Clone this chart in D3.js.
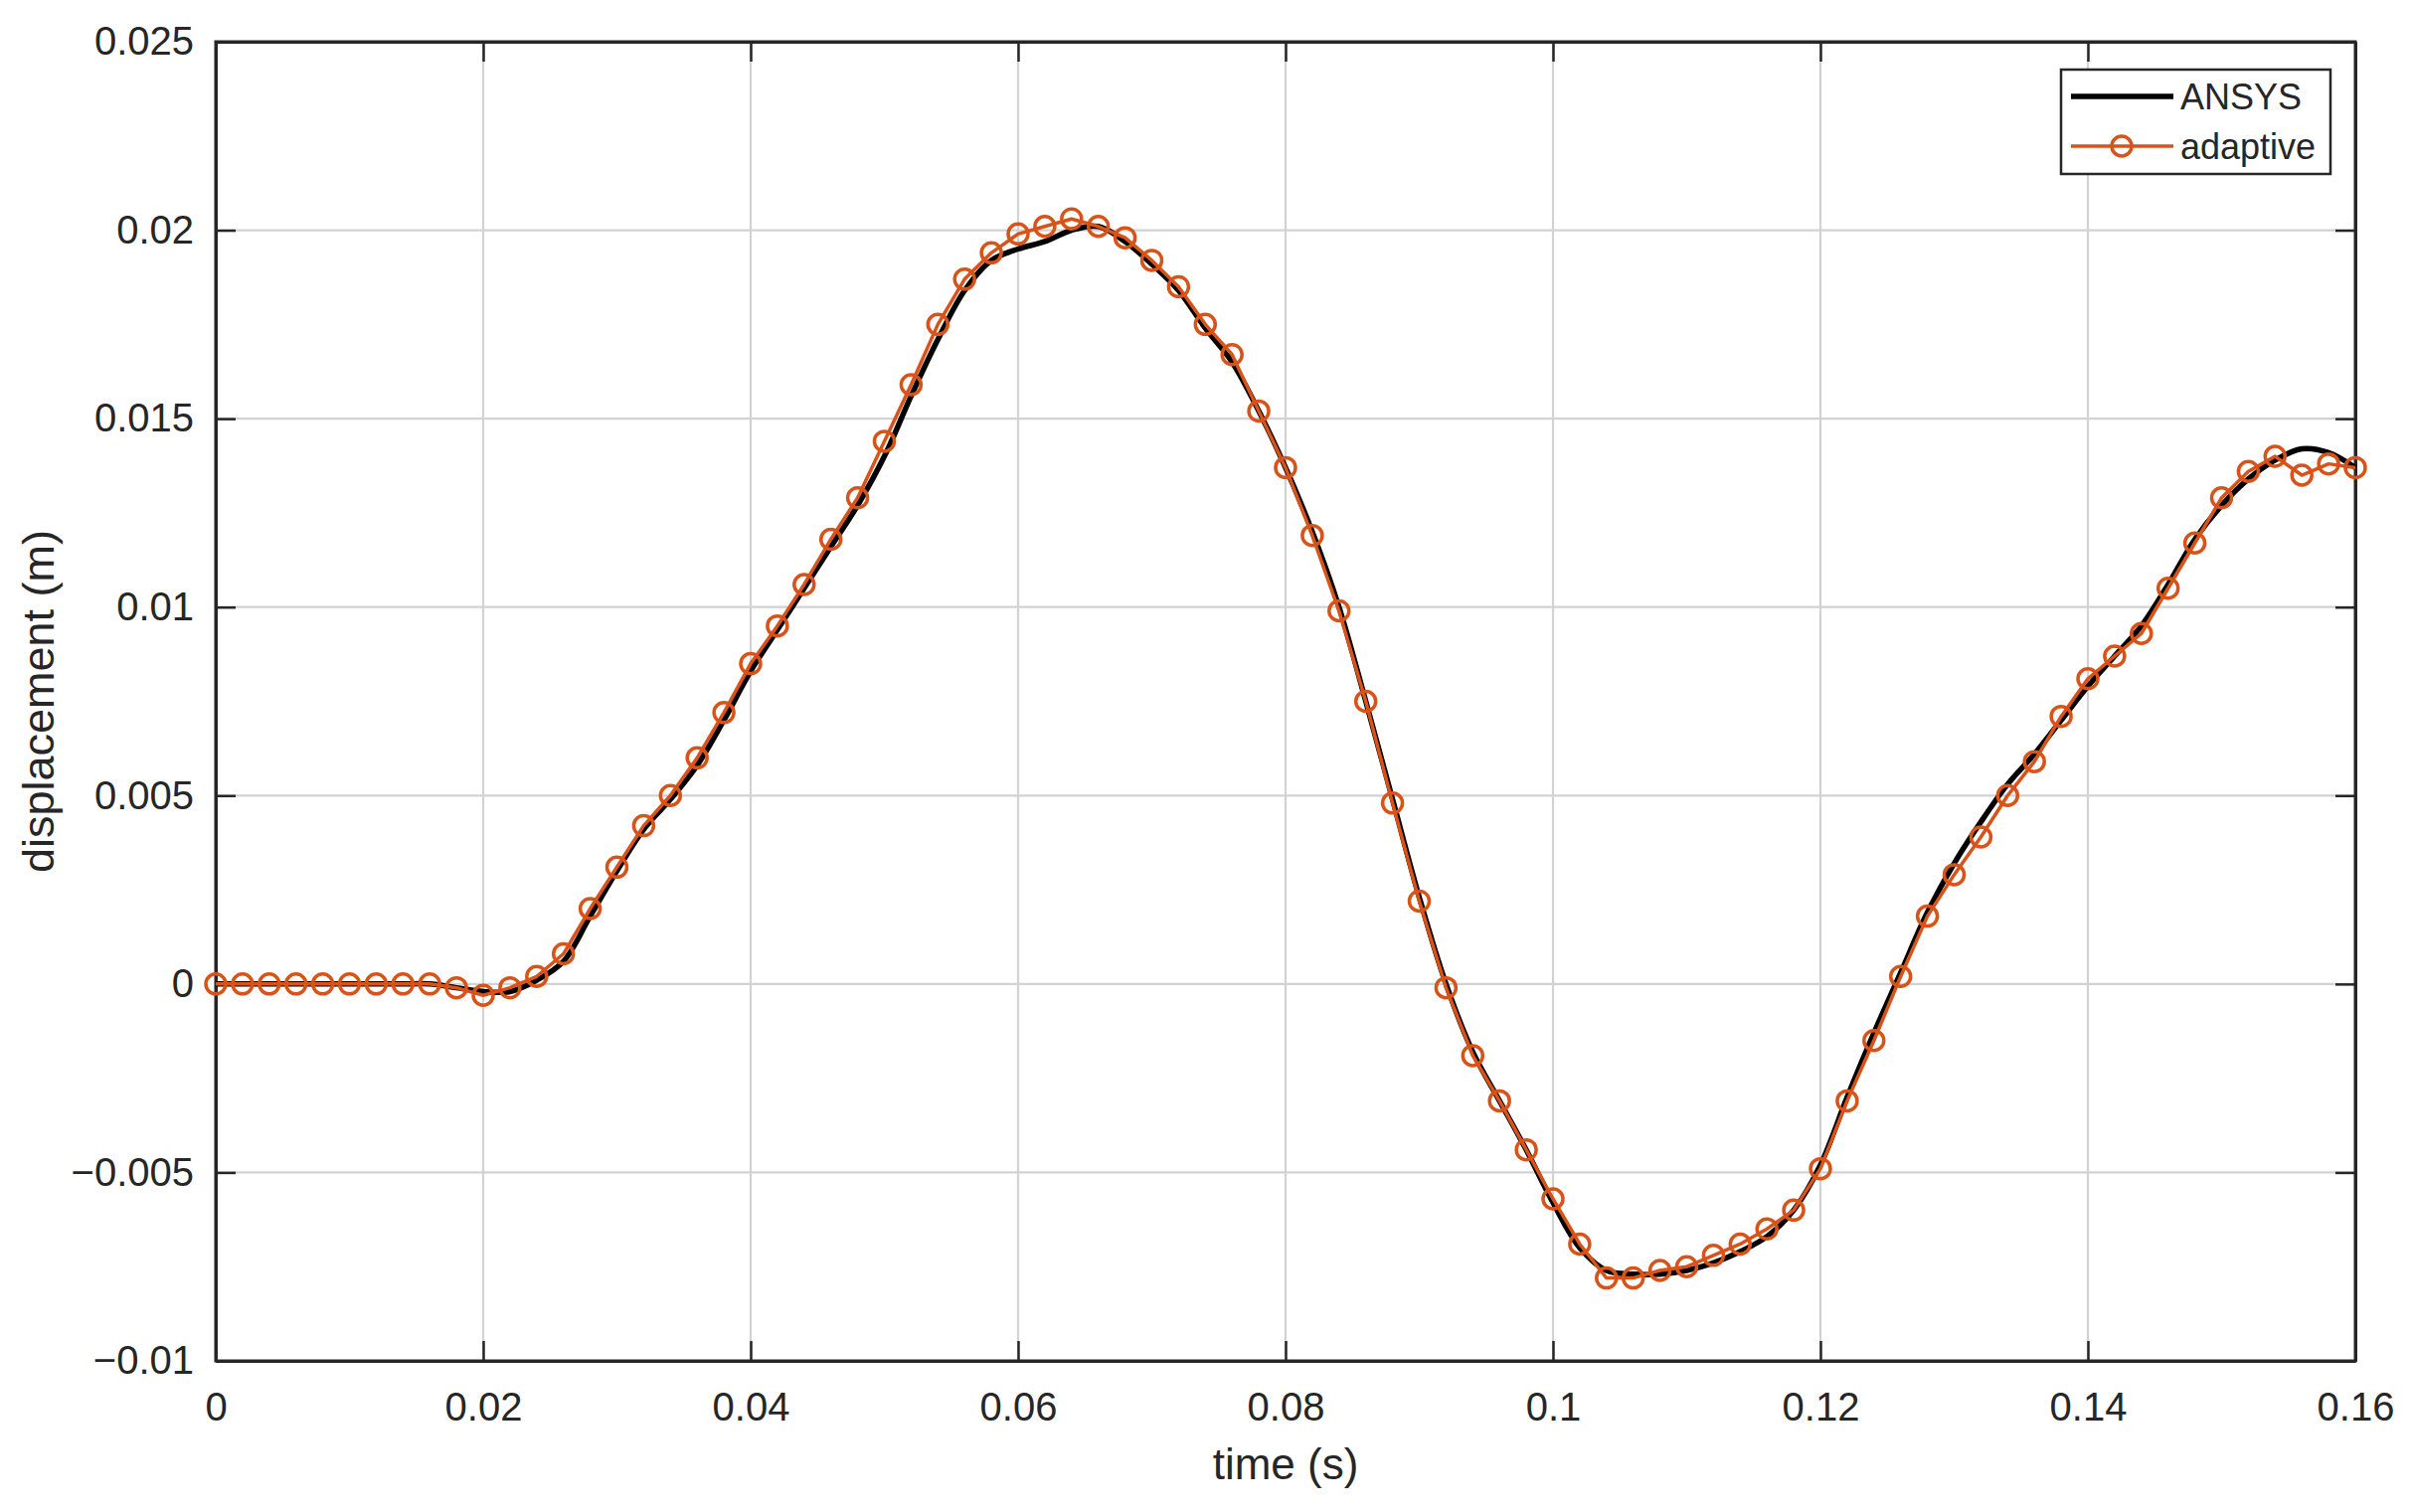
<!DOCTYPE html>
<html>
<head>
<meta charset="utf-8">
<script src="https://cdn.jsdelivr.net/npm/d3@7"></script>
<style>
  html, body { margin: 0; padding: 0; background: #fff; }
  svg { display: block; font-family: "Liberation Sans", Arial, Helvetica, sans-serif; }
</style>
</head>
<body>
<svg id="chart" width="2426" height="1521"></svg>
<script>
// ---- Data ----
const adaptiveTime = d3.range(0, 81).map(i => +(i * 0.002).toFixed(3));
const adaptiveValues = [
  0, 0, 0, 0, 0, 0, 0, 0, 0, -0.0001,
  -0.0003, -0.0001, 0.0002, 0.0008, 0.0020, 0.0031, 0.0042, 0.0050, 0.0060, 0.0072,
  0.0085, 0.0095, 0.0106, 0.0118, 0.0129, 0.0144, 0.0159, 0.0175, 0.0187, 0.0194,
  0.0199, 0.0201, 0.0203, 0.0201, 0.0198, 0.0192, 0.0185, 0.0175, 0.0167, 0.0152,
  0.0137, 0.0119, 0.0099, 0.0075, 0.0048, 0.0022, -0.0001, -0.0019, -0.0031, -0.0044,
  -0.0057, -0.0069, -0.0078, -0.0078, -0.0076, -0.0075, -0.0072, -0.0069, -0.0065, -0.0060,
  -0.0049, -0.0031, -0.0015, 0.0002, 0.0018, 0.0029, 0.0039, 0.0050, 0.0059, 0.0071,
  0.0081, 0.0087, 0.0093, 0.0105, 0.0117, 0.0129, 0.0136, 0.0140, 0.0135, 0.0138,
  0.0137
];
const ansysTime = d3.range(0, 81).map(i => +(i * 0.002).toFixed(3));
const ansysValues = [
  0, 0, 0, 0, 0, 0, 0, 0, 0, -0.0001,
  -0.0002, -0.0002, 0.0001, 0.0006, 0.0018, 0.0030, 0.0041, 0.0049, 0.0058, 0.0070,
  0.0083, 0.0094, 0.0105, 0.0116, 0.0127, 0.0140, 0.0156, 0.0171, 0.0184, 0.0192,
  0.0195, 0.0197, 0.0200, 0.0201, 0.0197, 0.0191, 0.0184, 0.0174, 0.0165, 0.0152,
  0.0137, 0.0120, 0.0100, 0.0075, 0.0049, 0.0023, 0.0000, -0.0018, -0.0031, -0.0044,
  -0.0058, -0.0070, -0.0076, -0.0077, -0.0077, -0.0076, -0.0074, -0.0071, -0.0067, -0.0060,
  -0.0048, -0.0030, -0.0013, 0.0003, 0.0019, 0.0032, 0.0043, 0.0053, 0.0061, 0.0070,
  0.0079, 0.0087, 0.0095, 0.0106, 0.0118, 0.0127, 0.0134, 0.0139, 0.0142, 0.0141,
  0.0137
];
const xTicks = [0, 0.02, 0.04, 0.06, 0.08, 0.1, 0.12, 0.14, 0.16];
const xTickLabels = ["0", "0.02", "0.04", "0.06", "0.08", "0.1", "0.12", "0.14", "0.16"];
const yTicks = [-0.01, -0.005, 0, 0.005, 0.01, 0.015, 0.02, 0.025];
const yTickLabels = ["\u22120.01", "\u22120.005", "0", "0.005", "0.01", "0.015", "0.02", "0.025"];
const seriesNames = ["ANSYS", "adaptive"];

// ---- Layout ----
const W = 2426, H = 1521;
const m = { left: 217, top: 42, right: 57, bottom: 152 };
const pw = W - m.left - m.right, ph = H - m.top - m.bottom;
const axisColor = "#262626";
const orange = "#D95319";

const svg = d3.select("#chart");
svg.append("rect").attr("width", W).attr("height", H).attr("fill", "#fff");
const g = svg.append("g").attr("transform", `translate(${m.left},${m.top})`);

const x = d3.scaleLinear().domain([0, 0.16]).range([0, pw]);
const y = d3.scaleLinear().domain([-0.01, 0.025]).range([ph, 0]);

// grid
const grid = g.append("g");
grid.selectAll(".gx").data(xTicks.slice(1, -1)).enter().append("line")
  .attr("x1", d => x(d)).attr("x2", d => x(d)).attr("y1", 0).attr("y2", ph)
  .attr("stroke", "#d2d2d2").attr("stroke-width", 2.2);
grid.selectAll(".gy").data(yTicks.slice(1, -1)).enter().append("line")
  .attr("y1", d => y(d)).attr("y2", d => y(d)).attr("x1", 0).attr("x2", pw)
  .attr("stroke", "#d2d2d2").attr("stroke-width", 2.2);

// axes (inward ticks, on all sides)
const tickLen = 20;
const fmtX = d => xTickLabels[xTicks.indexOf(d)];
const fmtY = d => yTickLabels[yTicks.indexOf(d)];
function styleAxis(sel) {
  sel.selectAll("path").attr("stroke", axisColor).attr("stroke-width", 3);
  sel.selectAll("line").attr("stroke", axisColor).attr("stroke-width", 2.5);
  sel.selectAll("text").attr("fill", axisColor).attr("font-size", 40)
    .attr("font-family", '"Liberation Sans", Arial, sans-serif');
}
const xAxisB = g.append("g").attr("transform", `translate(0,${ph})`)
  .call(d3.axisBottom(x).tickValues(xTicks).tickFormat(fmtX).tickSizeInner(-tickLen).tickSizeOuter(0).tickPadding(tickLen + 8));
styleAxis(xAxisB);
xAxisB.selectAll("text").attr("dy", "0.71em").attr("y", 32);
const xAxisT = g.append("g")
  .call(d3.axisTop(x).tickValues(xTicks).tickFormat("").tickSizeInner(-tickLen).tickSizeOuter(0));
styleAxis(xAxisT);
const yAxisL = g.append("g")
  .call(d3.axisLeft(y).tickValues(yTicks).tickFormat(fmtY).tickSizeInner(-tickLen).tickSizeOuter(0));
styleAxis(yAxisL);
yAxisL.selectAll("text").attr("x", -22);
const yAxisR = g.append("g").attr("transform", `translate(${pw},0)`)
  .call(d3.axisRight(y).tickValues(yTicks).tickFormat("").tickSizeInner(-tickLen).tickSizeOuter(0));
styleAxis(yAxisR);

// frame
g.append("rect").attr("x", 0).attr("y", 0).attr("width", pw).attr("height", ph)
  .attr("fill", "none").attr("stroke", axisColor).attr("stroke-width", 3);

// clip
svg.append("clipPath").attr("id", "clip").append("rect")
  .attr("x", -15).attr("y", -15).attr("width", pw + 30).attr("height", ph + 30);
const plot = g.append("g").attr("clip-path", "url(#clip)");

// ANSYS line
const ansys = ansysTime.map((t, i) => [t, ansysValues[i]]);
const adaptive = adaptiveTime.map((t, i) => [t, adaptiveValues[i]]);
plot.append("path").datum(ansys)
  .attr("d", d3.line().x(d => x(d[0])).y(d => y(d[1])).curve(d3.curveCatmullRom))
  .attr("fill", "none").attr("stroke", "#000").attr("stroke-width", 5.5)
  .attr("stroke-linejoin", "round");

// adaptive line + markers
plot.append("path").datum(adaptive)
  .attr("d", d3.line().x(d => x(d[0])).y(d => y(d[1])))
  .attr("fill", "none").attr("stroke", orange).attr("stroke-width", 3.5)
  .attr("stroke-linejoin", "round");
plot.selectAll(".mk").data(adaptive).enter().append("circle")
  .attr("cx", d => x(d[0])).attr("cy", d => y(d[1])).attr("r", 10)
  .attr("fill", "none").attr("stroke", orange).attr("stroke-width", 3.5);

// axis labels
svg.append("text").attr("x", m.left + pw / 2).attr("y", 1488)
  .attr("text-anchor", "middle").attr("font-size", 44).attr("fill", axisColor)
  .text("time (s)");
svg.append("text").attr("transform", `translate(54,${m.top + ph / 2}) rotate(-90)`)
  .attr("text-anchor", "middle").attr("font-size", 45).attr("fill", axisColor)
  .text("displacement (m)");

// legend
const lg = svg.append("g");
lg.append("rect").attr("x", 2073).attr("y", 70).attr("width", 271).attr("height", 105)
  .attr("fill", "#fff").attr("stroke", axisColor).attr("stroke-width", 2.5);
lg.append("line").attr("x1", 2083).attr("x2", 2186).attr("y1", 97).attr("y2", 97)
  .attr("stroke", "#000").attr("stroke-width", 5.5);
lg.append("text").attr("x", 2193).attr("y", 110).attr("font-size", 36).attr("fill", axisColor).text(seriesNames[0]);
lg.append("line").attr("x1", 2083).attr("x2", 2186).attr("y1", 147).attr("y2", 147)
  .attr("stroke", orange).attr("stroke-width", 3.5);
lg.append("circle").attr("cx", 2134).attr("cy", 147).attr("r", 10)
  .attr("fill", "none").attr("stroke", orange).attr("stroke-width", 3.5);
lg.append("text").attr("x", 2193).attr("y", 160).attr("font-size", 36).attr("fill", axisColor).text(seriesNames[1]);
</script>
</body>
</html>
